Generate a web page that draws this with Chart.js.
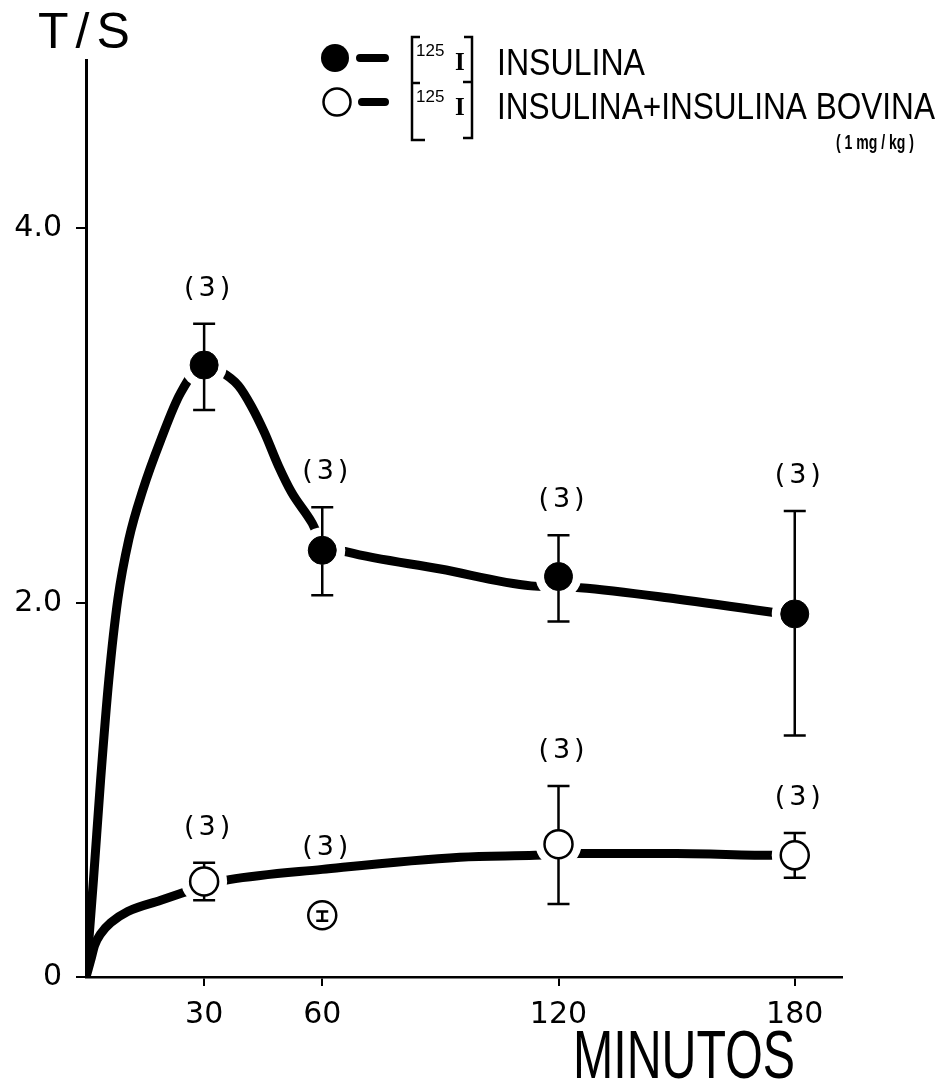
<!DOCTYPE html>
<html>
<head>
<meta charset="utf-8">
<title>T/S - Insulina</title>
<script src="https://cdn.jsdelivr.net/npm/chart.js@4.4.1/dist/chart.umd.min.js"></script>
<style>
  html, body { margin: 0; padding: 0; background: #fff; }
  #wrap { width: 939px; height: 1088px; position: relative; }
</style>
</head>
<body>
<div id="wrap"><canvas id="tsChart" width="939" height="1088"></canvas></div>
<script>
// time points (minutes) and T/S ratios
const minutes = [30, 60, 120, 180];

const tsInsulina = [3.27, 2.28, 2.14, 1.94];
const tsInsulinaLow = [3.03, 2.04, 1.90, 1.29];
const tsInsulinaHigh = [3.49, 2.51, 2.36, 2.49];

const tsBovina = [0.51, 0.33, 0.71, 0.65];
const tsBovinaLow = [0.41, 0.30, 0.39, 0.53];
const tsBovinaHigh = [0.61, 0.35, 1.02, 0.77];

const nAnimalsInsulina = ['(3)', '(3)', '(3)', '(3)'];
const nAnimalsBovina = ['(3)', '(3)', '(3)', '(3)'];

// hand drawn curves
const curveInsulinaX = [0, 1.9, 3.7, 5.8, 8.1, 10.9, 14.4, 19, 24, 30, 33.8, 38.7, 42, 45.3, 48.9, 52.2, 57.3, 60, 66.5, 90, 113, 120, 125.5, 150, 173.8, 180];
const curveInsulinaY = [0, 0.52, 1.05, 1.59, 2.02, 2.34, 2.60, 2.87, 3.12, 3.27, 3.24, 3.16, 3.05, 2.91, 2.73, 2.59, 2.43, 2.32, 2.27, 2.18, 2.09, 2.085, 2.08, 2.02, 1.95, 1.93];

const curveBovinaX = [0, 1.2, 2.2, 3.7, 6.3, 10.6, 19, 24.6, 30, 36.4, 60, 95, 114, 120, 125, 150, 175, 180];
const curveBovinaY = [0, 0.09, 0.17, 0.23, 0.29, 0.35, 0.41, 0.45, 0.49, 0.52, 0.575, 0.64, 0.65, 0.655, 0.66, 0.66, 0.65, 0.65];

const xTickValues = [30, 60, 120, 180];
const yTickValues = [0, 2, 4];

const ink = '#000';

function points(xs, ys) {
  return xs.map((x, i) => ({ x: x, y: ys[i] }));
}

function drawErrorBars(chart, dsIndex, lows, highs) {
  const meta = chart.getDatasetMeta(dsIndex);
  const yScale = chart.scales.y;
  const ctx = chart.ctx;
  ctx.save();
  ctx.strokeStyle = ink;
  ctx.lineWidth = 2.5;
  meta.data.forEach((pt, i) => {
    const r = pt.options.radius;
    const top = yScale.getPixelForValue(highs[i]);
    const bot = yScale.getPixelForValue(lows[i]);
    const inside = top > pt.y - r && bot < pt.y + r;
    const cap = inside ? 6 : 11;
    ctx.beginPath();
    if (inside) {
      ctx.moveTo(pt.x, top);
      ctx.lineTo(pt.x, bot);
    } else {
      ctx.moveTo(pt.x, top);
      ctx.lineTo(pt.x, pt.y - r);
      ctx.moveTo(pt.x, pt.y + r);
      ctx.lineTo(pt.x, bot);
    }
    ctx.moveTo(pt.x - cap, top);
    ctx.lineTo(pt.x + cap, top);
    ctx.moveTo(pt.x - cap, bot);
    ctx.lineTo(pt.x + cap, bot);
    ctx.stroke();
  });
  ctx.restore();
}

function drawCounts(chart, dsIndex, counts, highs, curveX, curveY) {
  const meta = chart.getDatasetMeta(dsIndex);
  const yScale = chart.scales.y;
  const ctx = chart.ctx;
  ctx.save();
  ctx.fillStyle = ink;
  ctx.font = '27px "DejaVu Sans"';
  ctx.letterSpacing = '4px';
  ctx.textAlign = 'center';
  ctx.textBaseline = 'middle';
  meta.data.forEach((pt, i) => {
    let y = yScale.getPixelForValue(highs[i]) - 35;
    const k = curveX.indexOf(minutes[i]);
    if (k >= 0) {
      const cy = yScale.getPixelForValue(curveY[k]);
      if (cy < pt.y - pt.options.radius) y = Math.min(y, cy - 21);
    }
    ctx.fillText(counts[i], pt.x + 5, y);
  });
  ctx.restore();
}

function drawLegendAndTitles(chart) {
  const ctx = chart.ctx;
  ctx.save();
  ctx.fillStyle = ink;
  ctx.strokeStyle = ink;

  // axis titles
  ctx.font = '50px "Liberation Sans"';
  ctx.letterSpacing = '7px';
  ctx.textBaseline = 'alphabetic';
  ctx.fillText('T/S', 38, 48);
  ctx.letterSpacing = '0px';
  ctx.font = '68px "Liberation Sans"';
  ctx.fillText('MINUTOS', 573, 1078, 222);

  // legend symbols
  ctx.beginPath();
  ctx.arc(335, 58, 14, 0, Math.PI * 2);
  ctx.fill();
  ctx.lineWidth = 2.5;
  ctx.beginPath();
  ctx.arc(337, 102, 13.5, 0, Math.PI * 2);
  ctx.stroke();
  ctx.lineWidth = 8;
  ctx.lineCap = 'round';
  ctx.beginPath();
  ctx.moveTo(360, 58); ctx.lineTo(385, 58);
  ctx.moveTo(362, 102); ctx.lineTo(385, 102);
  ctx.stroke();

  // brackets
  ctx.lineCap = 'butt';
  ctx.lineWidth = 2.5;
  ctx.beginPath();
  ctx.moveTo(420, 37); ctx.lineTo(412, 37); ctx.lineTo(412, 140); ctx.lineTo(425, 140);
  ctx.moveTo(412, 83); ctx.lineTo(420, 83);
  ctx.moveTo(464, 37); ctx.lineTo(472, 37); ctx.lineTo(472, 138); ctx.lineTo(463, 138);
  ctx.moveTo(463, 82); ctx.lineTo(472, 82);
  ctx.stroke();

  ctx.font = '17px "Liberation Sans"';
  ctx.fillText('125', 416, 56);
  ctx.fillText('125', 416, 102);
  ctx.font = 'bold 25px "Liberation Serif"';
  ctx.fillText('I', 455, 70);
  ctx.fillText('I', 455, 115);

  ctx.font = '37px "Liberation Sans"';
  ctx.fillText('INSULINA', 497, 75, 148);
  ctx.fillText('INSULINA+INSULINA BOVINA', 497, 119, 438);
  ctx.font = 'bold 20px "Liberation Sans"';
  ctx.fillText('( 1 mg / kg )', 836, 149, 78);
  ctx.restore();
}

const overlayPlugin = {
  id: 'overlay',
  afterDatasetsDraw(chart) {
    drawErrorBars(chart, 0, tsInsulinaLow, tsInsulinaHigh);
    drawErrorBars(chart, 1, tsBovinaLow, tsBovinaHigh);
    drawCounts(chart, 0, nAnimalsInsulina, tsInsulinaHigh, curveInsulinaX, curveInsulinaY);
    drawCounts(chart, 1, nAnimalsBovina, tsBovinaHigh, curveBovinaX, curveBovinaY);
  },
  afterDraw(chart) {
    drawLegendAndTitles(chart);
  }
};

const axisFont = { family: 'DejaVu Sans', size: 30 };

const ctx = document.getElementById('tsChart').getContext('2d');
const tsChart = new Chart(ctx, {
  type: 'line',
  data: {
    datasets: [
      {
        label: '[125I] INSULINA',
        data: points(minutes, tsInsulina),
        showLine: false,
        pointRadius: 14,
        pointBackgroundColor: ink,
        pointBorderColor: ink,
        pointBorderWidth: 1,
        order: 0
      },
      {
        label: '[125I] INSULINA+INSULINA BOVINA',
        data: points(minutes, tsBovina),
        showLine: false,
        pointRadius: 14,
        pointBackgroundColor: '#fff',
        pointBorderColor: ink,
        pointBorderWidth: 2.5,
        order: 0
      },
      {
        label: 'gap insulina',
        data: points(minutes, tsInsulina),
        showLine: false,
        pointRadius: 23,
        pointBackgroundColor: '#fff',
        pointBorderWidth: 0,
        order: 1
      },
      {
        label: 'gap bovina',
        data: points(minutes, tsBovina),
        showLine: false,
        pointRadius: 23,
        pointBackgroundColor: '#fff',
        pointBorderWidth: 0,
        order: 1
      },
      {
        label: 'curva insulina',
        data: points(curveInsulinaX, curveInsulinaY),
        borderColor: ink,
        borderWidth: 9,
        pointRadius: 0,
        cubicInterpolationMode: 'monotone',
        order: 2
      },
      {
        label: 'curva bovina',
        data: points(curveBovinaX, curveBovinaY),
        borderColor: ink,
        borderWidth: 9,
        pointRadius: 0,
        cubicInterpolationMode: 'monotone',
        order: 2
      }
    ]
  },
  options: {
    responsive: false,
    animation: false,
    devicePixelRatio: 1,
    layout: { padding: { top: 60, right: 97, left: 0, bottom: 0 } },
    plugins: {
      legend: { display: false },
      tooltip: { enabled: false }
    },
    scales: {
      x: {
        type: 'linear',
        min: 0,
        max: 192,
        afterBuildTicks: axis => { axis.ticks = xTickValues.map(v => ({ value: v })); },
        afterFit: axis => { axis.height = 111; },
        ticks: { color: ink, font: axisFont, padding: 11, maxRotation: 0, autoSkip: false },
        grid: { drawOnChartArea: false, drawTicks: true, tickLength: 9, color: ink, lineWidth: 2 },
        border: { display: true, color: ink, width: 2.5 }
      },
      y: {
        type: 'linear',
        min: 0,
        max: 4.9,
        afterBuildTicks: axis => { axis.ticks = yTickValues.map(v => ({ value: v })); },
        afterFit: axis => { axis.width = 86; },
        ticks: {
          color: ink,
          font: axisFont,
          padding: 14,
          callback: v => (v === 0 ? '0' : v.toFixed(1))
        },
        grid: { drawOnChartArea: false, drawTicks: true, tickLength: 10, color: ink, lineWidth: 2 },
        border: { display: true, color: ink, width: 3 }
      }
    }
  },
  plugins: [overlayPlugin]
});
</script>
</body>
</html>
